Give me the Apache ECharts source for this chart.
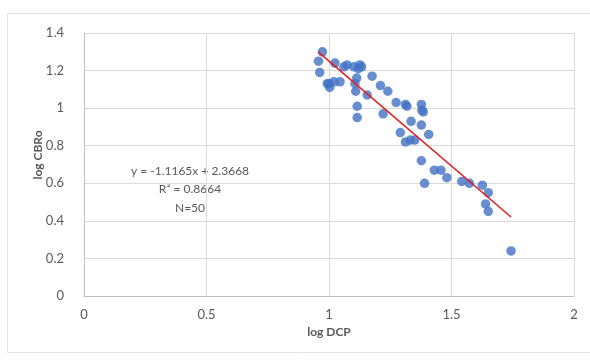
<!DOCTYPE html>
<html>
<head>
<meta charset="utf-8">
<script src="https://cdn.jsdelivr.net/npm/echarts@6/dist/echarts.min.js"></script>
<style>
  html, body { margin: 0; padding: 0; background: #fff; }
  #chart { width: 590px; height: 361px; }
</style>
</head>
<body>
<div id="chart"></div>
<script>
// log DCP (x) vs log CBRo (y)
const logDCP = [
  0.973, 0.957, 0.962, 0.993, 1.003, 1.020, 1.045, 1.024, 1.061, 1.074,
  1.102, 1.126, 1.133, 1.113, 1.106, 1.109, 1.115, 1.115, 1.156, 1.176,
  1.210, 1.240, 1.221, 1.274, 1.312, 1.318, 1.377, 1.379, 1.335, 1.377,
  1.407, 1.291, 1.312, 1.332, 1.350, 1.377, 1.390, 1.430, 1.457, 1.481,
  1.542, 1.573, 1.626, 1.650, 1.639, 1.650, 1.743, 1.000, 1.120, 1.385
];
const logCBRo = [
  1.30, 1.25, 1.19, 1.13, 1.11, 1.14, 1.14, 1.24, 1.22, 1.23,
  1.22, 1.23, 1.22, 1.16, 1.13, 1.09, 1.01, 0.95, 1.07, 1.17,
  1.12, 1.09, 0.97, 1.03, 1.02, 1.01, 1.02, 0.99, 0.93, 0.91,
  0.86, 0.87, 0.82, 0.83, 0.83, 0.72, 0.60, 0.67, 0.67, 0.63,
  0.61, 0.60, 0.59, 0.55, 0.49, 0.45, 0.24, 1.13, 1.21, 0.98
];
const slope = -1.1165;
const intercept = 2.3668;
const annotation = ['y = -1.1165x + 2.3668', 'R\u00b2 = 0.8664', 'N=50'];

const points = logDCP.map((x, i) => [x, logCBRo[i]]);
const xMin = Math.min(...logDCP);
const xMax = Math.max(...logDCP);
const trend = [xMin, xMax].map(x => [x, slope * x + intercept]);

const textColor = '#595959';
const gridColor = '#d9d9d9';
const font = 'Lato, "Open Sans", sans-serif';

const chart = echarts.init(document.getElementById('chart'));
chart.setOption({
  animation: false,
  textStyle: { fontFamily: font },
  grid: { left: 84, right: 16, top: 33, bottom: 65 },
  xAxis: {
    type: 'value',
    min: 0, max: 2, interval: 0.5,
    name: 'log DCP',
    nameLocation: 'middle',
    nameGap: 28,
    nameTextStyle: { color: textColor, fontWeight: 'bold', fontSize: 12, fontFamily: font },
    axisLine: { show: true, lineStyle: { color: '#bfbfbf' } },
    axisTick: { show: false },
    axisLabel: { color: textColor, fontSize: 13, margin: 12, fontFamily: font },
    splitLine: { show: true, lineStyle: { color: gridColor } }
  },
  yAxis: {
    type: 'value',
    min: 0, max: 1.4, interval: 0.2,
    axisLine: { show: true, lineStyle: { color: '#bfbfbf' } },
    axisTick: { show: false },
    axisLabel: { color: textColor, fontSize: 13, margin: 20, fontFamily: font },
    splitLine: { show: true, lineStyle: { color: gridColor } }
  },
  series: [
    {
      type: 'scatter',
      data: points,
      symbolSize: 9.5,
      itemStyle: { color: '#4472c4' },
      z: 2
    },
    {
      type: 'line',
      data: trend,
      showSymbol: false,
      lineStyle: { color: '#e31a1c', width: 1.5 },
      z: 3
    }
  ],
  graphic: [
    {
      type: 'rect',
      shape: { x: 7.5, y: 13.5, width: 590, height: 339 },
      style: { fill: 'none', stroke: '#e3e3e3', lineWidth: 1 },
      silent: true
    },
    {
      // y-axis title, placed by hand like the original
      type: 'text',
      x: 38,
      y: 155,
      rotation: Math.PI / 2,
      style: {
        text: 'log CBRo',
        fill: textColor,
        font: 'bold 12px ' + font,
        textAlign: 'center',
        textVerticalAlign: 'middle'
      }
    },
    ...annotation.map((t, i) => ({
      type: 'text',
      x: 190,
      y: 171 + i * 18.5,
      style: {
        text: t,
        fill: textColor,
        font: '12px ' + font,
        textAlign: 'center',
        textVerticalAlign: 'middle'
      }
    }))
  ]
});
</script>
</body>
</html>
